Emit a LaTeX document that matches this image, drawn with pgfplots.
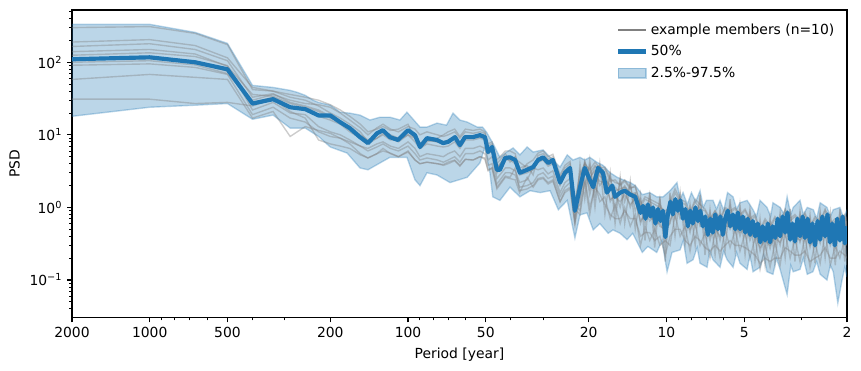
\documentclass[border=0pt]{standalone}
\usepackage{fontspec}
\setmainfont{DejaVu Sans}
\usepackage{pgfplots}
\pgfplotsset{compat=1.18}
\usepackage{pgfplotstable}
\usepgfplotslibrary{fillbetween}
\definecolor{c1}{HTML}{1F77B4}
\pgfplotsset{
  linelegend/.style={legend image code/.code={\draw[##1] (0pt,0pt) -- (20pt,0pt);}},
  bandlegend/.style={legend image code/.code={\draw[##1] (0pt,-3.5pt) rectangle (20pt,3.5pt);}},
}

\pgfplotstableread{
P m1 m2 m3 m4 m5 m6 m7 m8 m9 m10
2000 190 165 125 110 91 58 31 300 100 140
1000 205 180 135 112 95 68 31 310 105 150
667 170 150 120 98 85 62 27 250 92 130
500 115 105 90 75 68 58 28 175 70 88
400 45 33 22 30 19 17 25 42 28 36
333 40 37 28 36 24 21 31 40 33 34
286 33 28 20 30 17 9.5 21 36 25 27
250 30 25 19 27 15 13 17 33 22 24
222 25 22 13 26 11 11.5 8.5 30 18 21
200 20 18 11 24 9.5 10.5 7.5 26 16 17
183 17 15 10 20 9 9 7 22 14 15
168 14 12 8.5 16 8 7.5 6.5 18 11 13
153 11 9.5 7 12.5 7 5.5 5.3 14 9 10
143 8 8 6.5 10 6 4.8 4.8 11 7.5 8.5
132 10 9 7.5 12.5 6.8 5.5 5.5 12 9 10
125 11.5 10 8 14 7.5 6.5 6 13 10.5 11
117 10 8.5 7 12 6.5 5.5 5.6 11.5 9 9.5
109 9 8.5 6.5 11 6 5 5 12 8 9
100 11 10 8 13 7 6 5.8 14 10 11
94 10 8 6.5 12 5.5 4.5 4.5 9 9 9
90 7.5 6.5 5 10 4.5 4 4 6.5 7 7.5
84.5 9 7.5 5.5 11 4.8 4.2 4.2 8 8.5 8.5
77 8.5 7 5.2 10 4.5 4 4 9 8 8
73 8 6.8 5 9.5 4.2 3.8 3.9 10 7.5 7.5
70 8.5 7 5.5 10 4.5 4 4.2 11 8 8
66 9.5 8 6 11 5 4.4 4.5 12 9 9
63 7.5 6.5 5 9 4.2 3.7 3.8 9.5 7 7
60 9.5 8.5 6.5 11 5.5 4.6 4.6 12 9 9
56 9.5 8.5 6.5 10.5 5.5 4.5 4.5 11.5 9 9
52.7 10 9 7 11 6 5 5 12 9.5 9.5
50.4 9.5 8.5 6.5 10.5 5.5 4.6 4.8 11 9 9
49 6 5.5 4.5 7 3.8 3.2 3.3 7.5 6 5.8
47.3 7 6 5 7.5 4 3.5 3.5 8 6.5 6.5
45.3 3.5 3 2.5 4 2.1 1.8 1.9 4.5 3.5 3.3
42 5 4.5 3.5 5.5 3 2.6 2.7 6 4.8 4.6
40.3 5 4.5 3.5 4.2 3 2.5 2.6 6 5 4.8
38.5 4.6 4 3.2 5 2.8 2.4 3.5 5.5 4.5 4.4
37 4.2 2.8 2.2 3.5 1.9 1.6 1.7 3.0 3 3
34.6 3.5 3 2.4 3.8 2 2.6 1.8 4 3.3 3.2
32.8 3.8 3.3 3.5 2.8 2.2 1.9 2 4.5 3.6 3.5
31.4 4.8 4.2 3.3 5.2 2.8 2.4 2.5 5.6 4.6 4.4
30 5 4.5 3.5 5.5 3 2.5 2.6 6 4.8 4.6
28.7 4.2 3.7 2.9 4.6 2.5 2.1 2.2 5 4 3.9
27.5 4.6 4 3.2 5 2.7 2.3 2.4 5.4 4.4 4.2
25.8 2.3 2 1.6 2.6 1.4 1.2 1.2 2.8 2.2 2.1
24.7 3.2 2.8 2.2 3.5 1.9 1.6 1.7 3.8 3 2.9
23.6 3.6 3.2 2.5 4 2.2 1.8 1.9 4.3 3.4 3.3
22.6 1 0.9 0.75 1.1 0.65 0.6 0.6 1.2 0.95 0.9
21.6 3.2 1.1 2.4 0.9 1.9 4.0 1.4 2.8 0.8 2.1
20.7 2.0 3.8 4.2 2.5 4.4 1.3 3.6 4.0 2.2 3.1
19.8 3.8 1.5 2.9 1.0 2.4 4.5 1.8 3.3 0.8 2.6
18.9 1.4 3.0 3.8 1.9 3.6 1.0 2.8 4.2 2.1 3.2
18.1 3.6 2.0 3.0 1.5 3.8 4.0 2.3 3.5 1.2 2.7
17.3 1.6 2.6 3.4 1.1 2.9 0.8 2.2 3.6 1.4 2.4
16.5 2.8 1.2 2.3 0.8 1.8 3.0 1.3 2.5 0.7 2.0
15.8 0.9 1.6 2.4 0.7 1.9 0.6 1.4 2.2 1.1 1.7
15.1 2.4 1.0 2.0 0.7 1.6 2.6 1.2 2.1 0.6 1.8
14.5 1.2 1.8 2.3 0.9 2.0 0.6 1.5 2.4 1.0 1.9
13.8 2.1 1.0 1.8 0.7 1.5 2.3 1.1 1.9 0.55 1.6
13.2 0.9 1.5 2.0 0.7 1.6 0.5 1.3 1.9 0.8 1.5
12.6 1.3 0.6 1.0 0.4 0.85 1.5 0.65 1.1 0.3 0.95
12.1 0.6 0.9 1.3 0.45 1.1 0.35 0.8 1.4 0.55 1.0
11.6 1.5 0.65 1.2 0.45 1.0 1.6 0.75 1.3 0.35 1.1
11.1 0.45 0.8 1.1 0.35 0.9 0.28 0.65 1.2 0.5 0.75
10.6 1.3 0.55 1.0 0.4 0.85 1.4 0.6 1.1 0.3 0.9
10.1 0.3 0.5 0.9 0.22 0.7 0.18 0.45 0.8 0.35 0.6
9.68 1.4 0.6 1.0 0.4 0.85 1.6 0.65 1.2 0.3 0.95
9.26 0.7 1.2 1.6 0.5 1.3 0.4 1.0 1.8 0.8 1.2
8.85 1.5 0.7 1.2 0.5 1.1 1.6 0.8 1.3 0.4 1.0
8.47 0.5 0.8 1.1 0.35 0.9 0.3 0.65 1.2 0.55 0.8
8.10 1.0 0.45 0.8 0.3 0.62 1.1 0.5 0.85 0.25 0.7
7.74 0.55 0.9 1.2 0.4 1.0 0.3 0.75 1.3 0.6 0.9
7.41 1.3 0.55 0.95 0.35 0.8 1.5 0.6 1.1 0.3 0.9
7.09 0.4 0.65 0.9 0.28 0.75 0.22 0.5 0.95 0.45 0.6
6.78 0.85 0.35 0.65 0.25 0.5 0.95 0.4 0.7 0.2 0.55
6.48 0.4 0.65 0.9 0.3 0.75 0.22 0.5 0.9 0.45 0.65
6.20 0.8 0.35 0.65 0.25 0.5 0.95 0.4 0.7 0.2 0.55
5.93 0.45 0.7 0.95 0.3 0.8 0.25 0.55 1.0 0.5 0.7
5.67 1.1 0.5 0.85 0.35 0.7 1.3 0.55 0.9 0.28 0.8
5.42 0.45 0.7 0.95 0.3 0.8 0.25 0.55 1.0 0.5 0.7
5.19 0.95 0.4 0.75 0.3 0.62 1.1 0.45 0.8 0.25 0.7
4.96 0.4 0.65 0.9 0.28 0.75 0.22 0.5 0.95 0.45 0.65
4.75 0.85 0.35 0.65 0.25 0.52 0.95 0.4 0.7 0.2 0.6
4.54 0.35 0.55 0.75 0.22 0.6 0.18 0.42 0.8 0.38 0.55
4.34 0.6 0.25 0.45 0.17 0.36 0.7 0.28 0.5 0.14 0.4
4.15 0.28 0.45 0.65 0.2 0.5 0.16 0.35 0.7 0.3 0.45
3.97 0.65 0.27 0.5 0.18 0.38 0.75 0.3 0.55 0.15 0.42
3.80 0.3 0.5 0.7 0.2 0.55 0.17 0.38 0.75 0.33 0.5
3.63 0.75 0.3 0.55 0.2 0.44 0.85 0.33 0.6 0.16 0.5
3.47 0.4 0.65 0.9 0.28 0.75 0.2 0.5 0.95 0.45 0.65
3.32 0.85 0.35 0.65 0.25 0.5 0.95 0.4 0.7 0.2 0.55
3.18 0.33 0.55 0.75 0.22 0.6 0.18 0.4 0.8 0.38 0.55
3.04 0.8 0.33 0.6 0.22 0.47 0.9 0.35 0.65 0.18 0.55
2.91 0.35 0.6 0.8 0.25 0.65 0.2 0.45 0.85 0.4 0.6
2.78 0.7 0.28 0.5 0.18 0.4 0.8 0.3 0.55 0.15 0.45
2.66 0.3 0.5 0.7 0.2 0.55 0.17 0.38 0.75 0.33 0.5
2.54 0.8 0.32 0.6 0.22 0.46 0.9 0.35 0.65 0.17 0.55
2.43 0.4 0.65 0.9 0.28 0.75 0.2 0.5 0.95 0.45 0.65
2.32 0.75 0.3 0.55 0.2 0.45 0.85 0.33 0.6 0.16 0.5
2.22 0.28 0.45 0.65 0.2 0.5 0.16 0.35 0.7 0.3 0.45
2.13 0.85 0.35 0.65 0.25 0.5 0.95 0.4 0.7 0.2 0.55
2.04 0.33 0.55 0.75 0.22 0.6 0.18 0.4 0.8 0.38 0.55
2.0 0.65 0.3 0.5 0.2 0.4 0.75 0.3 0.55 0.16 0.45
}\members

\begin{document}
\begin{tikzpicture}
\begin{axis}[name=ax, scale only axis, width=558pt, height=221.5pt,
  xmode=log, ymode=log, x dir=reverse,
  xmin=2, xmax=2000, ymin=0.0303, ymax=525,
  xtick={2,5,10,20,50,100,200,500,1000,2000},
  xticklabels={2,5,10,20,50,100,200,500,1000,2000},
  minor xtick={3,4,6,7,8,9,30,40,60,70,80,90,300,400,600,700,800,900},
  ytick={0.1,1,10,100},
  yticklabels={10\textsuperscript{−1},10\textsuperscript{0},10\textsuperscript{1},10\textsuperscript{2}},
  minor ytick={0.04,0.05,0.06,0.07,0.08,0.09,0.2,0.3,0.4,0.5,0.6,0.7,0.8,0.9,2,3,4,5,6,7,8,9,20,30,40,50,60,70,80,90,200,300,400,500},
  tick align=outside, xtick pos=bottom, ytick pos=left,
  major tick length=3.5pt, minor tick length=2pt,
  every major tick/.style={line width=0.8pt, black},
  every minor tick/.style={line width=0.6pt, black},
  axis line style={line width=0.8pt},
  tick label style={font=\fontsize{10}{12}\selectfont},
  label style={font=\fontsize{10}{12}\selectfont},
  xlabel={Period [year]}, ylabel={PSD},
  legend style={at={(0.993,0.975)}, anchor=north east, draw=none, fill=none,
    font=\fontsize{10}{12}\selectfont, row sep=2.6pt},
  legend cell align=left,
]
% band
\addplot[name path=up, draw=c1, draw opacity=0.3, line width=1pt, forget plot] coordinates {
(2000,333)(1000,333)(667,258)(500,182)(400,48)(333,45)(286,41)(269,38.6)(250,35)(233,30)(222,28)(200,25.6)
(183,20.5)(168,19.9)(153.5,18.7)(140.4,16)(128.4,17.5)(117.5,17.5)(107.5,16)(101,20.5)(95,16)(89.9,12.8)
(84.5,12.8)(77.3,14.5)(71,13.6)(67,19.9)(63,16)(59,15)(54,12.8)(51.5,12.8)(49.7,10.9)(47,7.7)(44.1,4.9)
(41.5,5.8)(39.2,6.6)(36.9,5.3)(34.6,6.8)(32.8,5.8)(30,6.2)(28.2,4.9)(25.8,3.6)(24.2,5.3)(23,4.5)(21.6,4.9)
(20.7,4.5)(19.8,4.9)(18.6,4.2)(17.6,3.8)(16.5,3.0)(15.5,2.6)(14.7,2.4)(13.8,2.2)(13.2,2.0)(12.4,1.5)(11.6,1.6)
(10.9,1.4)(10.3,1.4)(9.68,1.7)(9.1,2.2)(8.85,1.3)(8.62,1.6)(8.3,1.1)(8.0,1.6)(7.7,1.2)(7.41,1.7)(7.2,1.0)(7.0,1.25)(6.6,1.25)
(6.4,0.95)(6.2,1.25)(6.0,0.9)(5.8,1.6)(5.52,1.4)(5.35,0.95)(5.19,1.16)(4.87,1.25)(4.62,0.93)(4.48,0.75)(4.34,1.25)(4.08,1.0)
(3.95,0.75)(3.87,1.16)(3.63,1.0)(3.5,0.8)(3.41,1.4)(3.3,0.8)(3.23,1.0)(3.04,1.25)(2.95,0.8)(2.85,1.0)(2.70,0.93)
(2.62,0.7)(2.54,1.16)(2.39,1.0)(2.32,0.75)(2.26,0.93)(2.13,1.0)(2.06,0.7)(2.0,0.93)};
\addplot[name path=lo, draw=c1, draw opacity=0.3, line width=1pt, forget plot] coordinates {
(2000,18)(1000,24)(667,25.6)(500,27)(400,16.4)(333,18.7)(286,12.4)(250,12.4)(222,9.5)(200,6.8)(172,5.6)
(153.5,3.5)(142.9,3.3)(128.4,4.1)(117.5,4.9)(101,4.9)(94,2.4)(89.9,2.0)(84.5,3.0)(77.3,2.8)(68.8,2.2)
(59,2.6)(52.7,4.1)(50.4,6.8)(48.2,3.0)(47,1.4)(44.1,1.25)(40.3,1.9)(36.9,1.4)(33.7,1.7)(30.8,1.6)
(28.2,1.7)(26.2,0.93)(24.2,1.25)(22.6,0.38)(21.6,0.79)(20.3,0.84)(19.2,0.49)(18.1,0.6)(16.8,0.44)
(16.1,0.49)(15.1,0.44)(14.2,0.36)(13.5,0.44)(12.4,0.24)(11.8,0.29)(10.9,0.24)(10.4,0.35)(9.94,0.13)(9.51,0.24)
(8.85,0.26)(8.6,0.35)(8.32,0.17)(7.89,0.19)(7.6,0.28)(7.41,0.17)(6.96,0.15)(6.8,0.25)(6.6,0.19)(6.2,0.15)
(6.0,0.25)(5.82,0.19)(5.52,0.15)(5.35,0.24)(5.19,0.17)(4.87,0.14)(4.75,0.22)(4.62,0.13)(4.34,0.15)(4.2,0.22)
(4.08,0.13)(3.87,0.12)(3.75,0.2)(3.63,0.14)(3.41,0.063)(3.3,0.16)(3.23,0.13)(3.04,0.14)(2.95,0.2)(2.85,0.12)
(2.71,0.13)(2.62,0.18)(2.54,0.12)(2.39,0.10)(2.32,0.16)(2.26,0.13)(2.17,0.048)(2.09,0.10)(2.04,0.15)(2.0,0.11)};
\addplot[fill=c1, fill opacity=0.3, draw=none, forget plot] fill between[of=up and lo];
% members
\pgfplotsinvokeforeach{1,...,10}{
  \addplot[gray, opacity=0.4, line width=1pt, forget plot] table[x=P, y=m#1]{\members};
}
% median
\addplot[c1, line width=3pt, line join=round, forget plot] coordinates {
(2000,110)(1000,117)(667,100)(500,80)(400,27)(333,31)(286,24)(250,22.6)(222,18.5)(200,18.5)
(183.4,15)(167.8,12.3)(153.5,9.3)(142.9,7.7)(131.9,10.5)(125.1,11.6)(117.5,9.3)(109.4,8.5)(100,11.6)
(94.0,9.9)(89.9,6.8)(84.5,9.0)(77.3,8.5)(73.2,7.7)(70.0,8.0)(65.8,9.3)(63.0,7.2)(60.2,9.3)(56.1,9.3)
(52.7,9.9)(50.4,9.3)(49.0,5.8)(47.3,6.8)(45.3,3.3)(44.1,3.3)(42.1,4.8)(40.3,4.9)(38.5,4.5)(36.9,3.0)
(34.6,3.3)(32.8,3.6)(31.4,4.5)(30.0,4.9)(28.7,4.1)(27.5,4.5)(25.8,2.2)(24.7,3.0)(23.6,3.5)(22.6,0.9)
(21.6,1.9)(20.7,3.5)(19.8,2.4)(19.2,1.9)(18.4,3.5)(17.6,3.0)(17.0,1.6)(16.2,2.0)(15.8,1.4)(15.1,1.6)
(14.5,1.7)(13.8,1.5)(13.2,1.4)
(12.6,0.84)(12.32,1.05)(12.05,0.7)(11.79,1.1)(11.53,0.75)(11.27,1.0)(11.03,0.6)(10.78,0.95)(10.55,0.65)(10.31,0.9)
(10.09,0.39)(9.87,0.8)(9.65,1.2)(9.44,0.8)(9.23,1.3)(9.03,0.9)(8.83,1.25)(8.63,0.7)(8.44,0.95)(8.26,0.55)
(8.08,0.9)(7.90,0.6)(7.72,1.0)(7.55,0.65)(7.39,0.9)(7.23,0.55)(7.07,0.75)(6.91,0.42)(6.76,0.7)(6.61,0.45)
(6.47,0.8)(6.32,0.5)(6.18,0.75)(6.05,0.42)(5.92,0.7)(5.79,0.9)(5.66,0.55)(5.53,0.8)(5.41,0.5)(5.29,0.85)
(5.18,0.5)(5.06,0.75)(4.95,0.45)(4.84,0.7)(4.74,0.42)(4.63,0.65)(4.53,0.4)(4.43,0.6)(4.33,0.33)(4.24,0.55)
(4.15,0.35)(4.05,0.6)(3.97,0.33)(3.88,0.55)(3.79,0.38)(3.71,0.7)(3.63,0.4)(3.55,0.75)(3.47,0.45)(3.40,0.85)
(3.32,0.36)(3.25,0.6)(3.18,0.34)(3.11,0.7)(3.04,0.4)(2.97,0.75)(2.91,0.38)(2.84,0.7)(2.78,0.33)(2.72,0.6)
(2.66,0.3)(2.60,0.65)(2.54,0.36)(2.49,0.75)(2.43,0.4)(2.38,0.8)(2.33,0.33)(2.28,0.6)(2.23,0.3)(2.18,0.7)
(2.13,0.35)(2.08,0.75)(2.04,0.32)(2.0,0.55)};
% legend
\addlegendimage{linelegend, gray, line width=1.5pt}
\addlegendentry{example members (n=10)}
\addlegendimage{linelegend, c1, line width=3pt}
\addlegendentry{50\%}
\addlegendimage{bandlegend, fill=c1, fill opacity=0.3, draw=c1, draw opacity=0.3, line width=1pt}
\addlegendentry{2.5\%-97.5\%}
\end{axis}
\pgfresetboundingbox
\path[use as bounding box] ([shift={(-330.8pt,-148.95pt)}]ax.center) rectangle ([shift={(289.1pt,117.95pt)}]ax.center);
\end{tikzpicture}
\end{document}
